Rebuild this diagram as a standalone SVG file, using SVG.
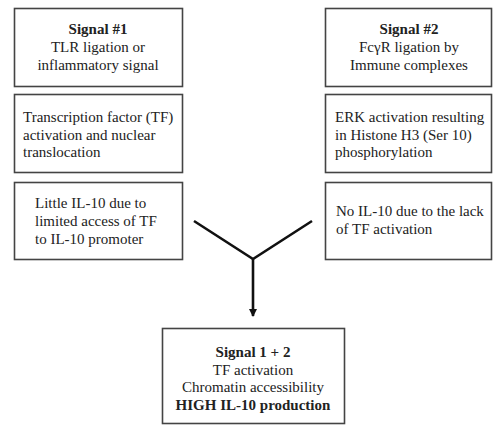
<svg xmlns="http://www.w3.org/2000/svg" width="493" height="426" viewBox="0 0 493 426">
<style>
.box{fill:#fff;stroke:#444;stroke-width:1.6}
text{font-size:15px;fill:#222}
.c{text-anchor:middle}
.b{font-weight:bold}
.line{fill:none;stroke:#111;stroke-width:2.6}
</style>
<defs>
<marker id="ah" markerWidth="9" markerHeight="9" refX="7" refY="4" orient="auto" markerUnits="userSpaceOnUse">
<path d="M0,0 L8,4 L0,8 Z" fill="#111"/>
</marker>
</defs>
<rect width="493" height="426" fill="#fff"/>
<g font-family="'Liberation Serif', 'DejaVu Serif', serif">
<g id="s1">
<rect class="box" x="14.5" y="8.5" width="168" height="78"/>
<text class="c b" x="98" y="34">Signal #1</text>
<text class="c" x="98" y="52">TLR ligation or</text>
<text class="c" x="98" y="70">inflammatory signal</text>
</g>
<g id="tf">
<rect class="box" x="14.5" y="94.5" width="168" height="78"/>
<text x="23" y="122">Transcription factor (TF)</text>
<text x="23" y="139.5">activation and nuclear</text>
<text x="23" y="157">translocation</text>
</g>
<g id="little">
<rect class="box" x="14.5" y="182.5" width="168" height="77"/>
<text x="35" y="208">Little IL-10 due to</text>
<text x="35" y="226">limited access of TF</text>
<text x="35" y="244">to IL-10 promoter</text>
</g>
<g id="s2">
<rect class="box" x="325.5" y="8.5" width="166" height="78"/>
<text class="c b" x="409" y="34">Signal #2</text>
<text class="c" x="409" y="52">FcγR ligation by</text>
<text class="c" x="409" y="70">Immune complexes</text>
</g>
<g id="erk">
<rect class="box" x="325.5" y="94.5" width="166" height="78"/>
<text x="335" y="122">ERK activation resulting</text>
<text x="335" y="139.5">in Histone H3 (Ser 10)</text>
<text x="335" y="157">phosphorylation</text>
</g>
<g id="noil">
<rect class="box" x="325.5" y="182.5" width="166" height="77"/>
<text x="336" y="216">No IL-10 due to the lack</text>
<text x="336" y="234">of TF activation</text>
</g>
<g id="combo">
<rect class="box" x="162.5" y="328.5" width="182" height="95"/>
<text class="c b" x="253" y="357">Signal 1 + 2</text>
<text class="c" x="253" y="375">TF activation</text>
<text class="c" x="253" y="392">Chromatin accessibility</text>
<text class="c b" x="253" y="410">HIGH IL-10 production</text>
</g>
</g>
<g id="connectors">
<polyline class="line" points="194,221 253,259 312,221"/>
<line class="line" x1="253" y1="259" x2="253" y2="316" marker-end="url(#ah)"/>
</g>
</svg>
